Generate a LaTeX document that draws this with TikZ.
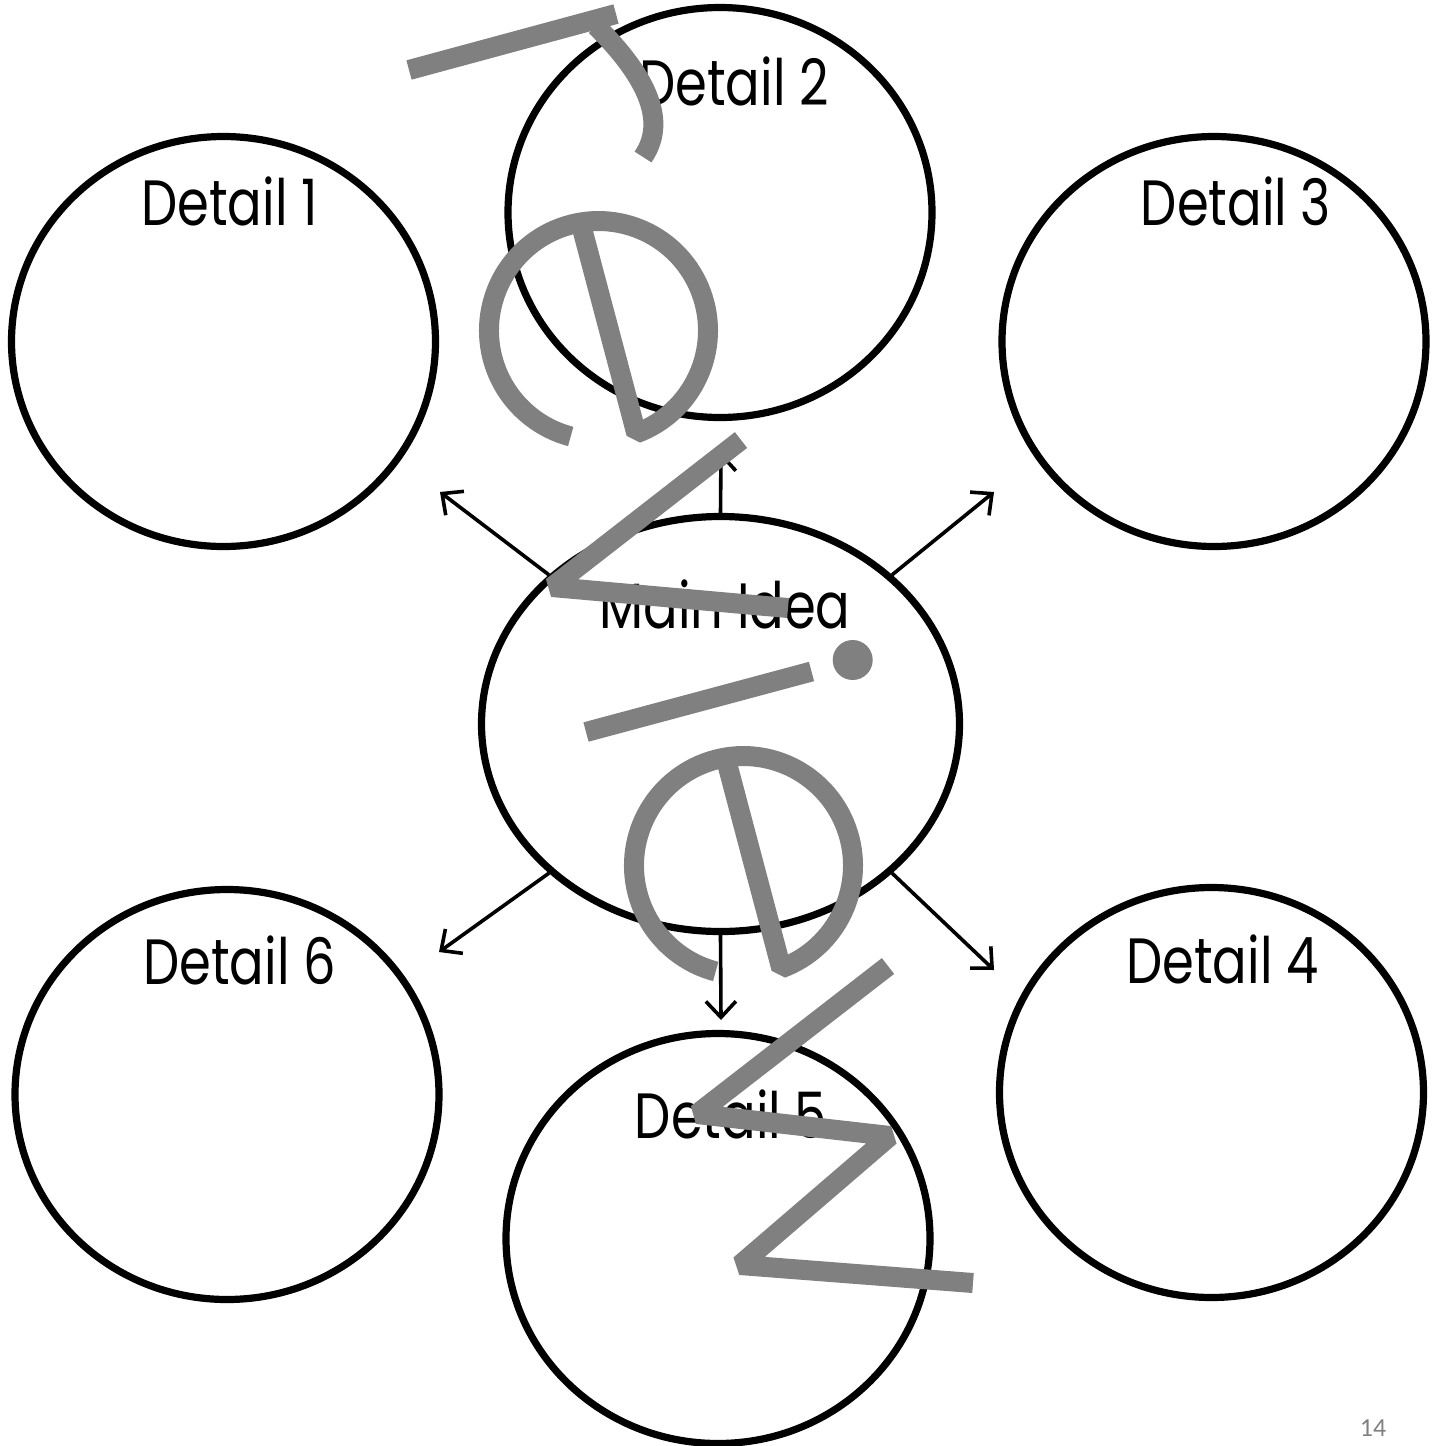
\documentclass[tikz,border=0pt]{standalone}
\usepackage{fontspec}
\setmainfont{Poppins}[FakeStretch=0.8]
\newfontfamily\pagefont{Carlito}
\usetikzlibrary{arrows.meta,shapes.geometric}
\definecolor{stampgray}{RGB}{128,128,128}
\definecolor{pagegray}{RGB}{128,128,128}
\begin{document}
\begin{tikzpicture}[x=0.5pt,y=-0.5pt,
  bubble/.style={draw, ellipse, line width=3.6pt, inner sep=0pt,
                 minimum width=212pt, minimum height=205pt},
  hub/.style={bubble, minimum width=239pt, minimum height=207.5pt},
  caption/.style={font=\fontsize{32}{36}\selectfont, inner sep=0pt, anchor=base},
  link/.style={line width=1.8pt, -{Straight Barb[length=8pt,width=15pt]}},
  stamp/.style={draw=stampgray, line width=10pt, line join=bevel, line cap=butt}
]
\useasboundingbox (0,0) rectangle (1440,1446);

% bubbles
\node[hub]    (main) at (720.5,724)   {};
\node[bubble] (d1)   at (223.5,341.5) {};
\node[bubble] (d2)   at (720,212.5)   {};
\node[bubble] (d3)   at (1214,341.5)  {};
\node[bubble] (d4)   at (1211.5,1092.5) {};
\node[bubble] (d5)   at (718,1238.5)  {};
\node[bubble] (d6)   at (227,1094.5)  {};

% captions
\node[caption] (tmain) at (725,628)   {Main Idea};
\node[caption] (t1)    at (229.5,225) {Detail 1};
\node[caption] (t2)    at (734,105)   {Detail 2};
\node[caption] (t3)    at (1236,225)  {Detail 3};
\node[caption] (t4)    at (1222.5,983) {Detail 4};
\node[caption] (t5)    at (731,1138)  {Detail 5};
\node[caption] (t6)    at (239.5,984) {Detail 6};

% arrow tips
\coordinate (tipU)  at (721,452);
\coordinate (tipUL) at (440,492);
\coordinate (tipUR) at (994,492);
\coordinate (tipLL) at (439,952);
\coordinate (tipLR) at (994,970);
\coordinate (tipD)  at (721,1020);

\draw[link] (main.north) -- (tipU);
\draw[link] (main.139)   -- (tipUL);
\draw[link] (main.41)    -- (tipUR);
\draw[link] (main.221)   -- (tipLL);
\draw[link] (main.319)   -- (tipLR);
\draw[link] (main.south) -- (tipD);

% stamp lettering
\draw[stamp] (409,70) -- (616,14);
\draw[stamp] (596,26) .. controls (635,65) and (672,115) .. (643,157);
\draw[stamp] (583,232) -- (636.3,433.3) arc[start angle=69.8, end angle=-255.3, radius=109.5];
\draw[stamp] (741,440) -- (552,587) -- (788,608);
\draw[stamp] (586,732) -- (811.5,671.5);
\fill[stampgray] (852.7,660) circle[radius=20];
\draw[stamp] (728,767) -- (781.3,968.3) arc[start angle=69.8, end angle=-255.3, radius=109.5];
\draw[stamp] (888,966) -- (697,1114) -- (890,1136) -- (740,1265) -- (973,1283);

% page number
\node[font=\pagefont\fontsize{13}{15}\selectfont, text=pagegray, anchor=base, inner sep=0pt]
  (pg) at (1373,1436) {14};
\end{tikzpicture}
\end{document}
